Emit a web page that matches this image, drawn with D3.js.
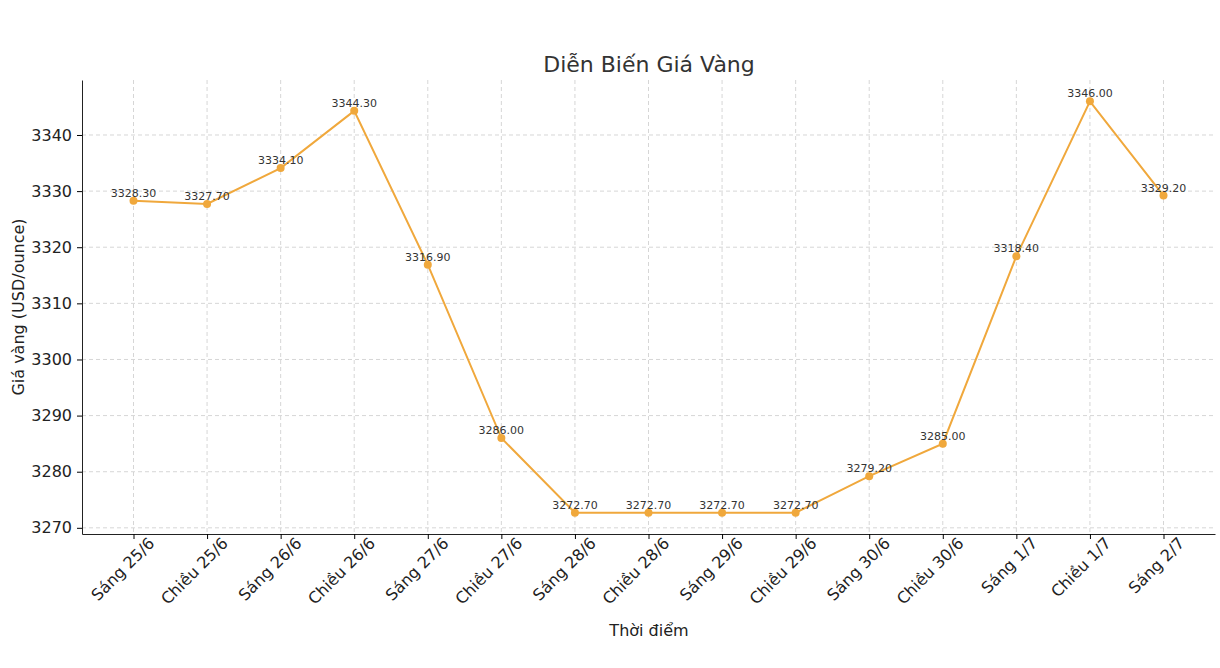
<!DOCTYPE html>
<html><head><meta charset="utf-8">
<script src="https://cdn.jsdelivr.net/npm/d3@7"></script>
<style>body{margin:0;background:#fff;font-family:"DejaVu Sans",sans-serif}</style>
</head><body>
<script>
"use strict";
const categories = ["Sáng 25/6","Chiều 25/6","Sáng 26/6","Chiều 26/6","Sáng 27/6","Chiều 27/6","Sáng 28/6","Chiều 28/6","Sáng 29/6","Chiều 29/6","Sáng 30/6","Chiều 30/6","Sáng 1/7","Chiều 1/7","Sáng 2/7"];
const prices = [3328.3,3327.7,3334.1,3344.3,3316.9,3286.0,3272.7,3272.7,3272.7,3272.7,3279.2,3285.0,3318.4,3346.0,3329.2];
const yTicks = [3270,3280,3290,3300,3310,3320,3330,3340];

const W = 1220, H = 668;
const m = {left: 82, right: 5, top: 80, bottom: 134};
const svg = d3.select("body").append("svg").attr("width", W).attr("height", H);

const x = d3.scaleLinear().domain([-0.7, categories.length - 0.3]).range([m.left, W - m.right]);
const y = d3.scaleLinear().domain([3268.9, 3349.8]).range([H - m.bottom, m.top]);
const color = "#f0a83c";

// grid
svg.append("g").selectAll("line").data(yTicks).join("line")
  .attr("x1", m.left).attr("x2", W - m.right)
  .attr("y1", d => y(d)).attr("y2", d => y(d))
  .attr("stroke", "#ccc").attr("stroke-dasharray", "4,3").attr("stroke-width", 0.8);
svg.append("g").selectAll("line").data(categories).join("line")
  .attr("x1", (d, i) => x(i)).attr("x2", (d, i) => x(i))
  .attr("y1", m.top).attr("y2", H - m.bottom)
  .attr("stroke", "#ccc").attr("stroke-dasharray", "4,3").attr("stroke-width", 0.8);

// axes
const yAxis = svg.append("g").attr("transform", `translate(${m.left},0)`)
  .call(d3.axisLeft(y).tickValues(yTicks).tickFormat(d3.format("d")).tickSize(5).tickSizeOuter(0).tickPadding(5));
yAxis.selectAll("text").style("font-size", "16px").style("font-family", "DejaVu Sans").attr("fill", "#222");
const xAxis = svg.append("g").attr("transform", `translate(0,${H - m.bottom})`)
  .call(d3.axisBottom(x).tickValues(d3.range(categories.length)).tickFormat(i => categories[i]).tickSize(5).tickSizeOuter(0));
xAxis.selectAll("text").style("font-size", "16px").style("font-family", "DejaVu Sans").attr("fill", "#222")
  .attr("text-anchor", "end").attr("dx", "0.5em").attr("dy", "0.9em")
  .attr("transform", "rotate(-45)");
svg.selectAll(".domain").attr("stroke", "#222");

// line + points
svg.append("path").datum(prices)
  .attr("fill", "none").attr("stroke", color).attr("stroke-width", 2)
  .attr("d", d3.line().x((d, i) => x(i)).y(d => y(d)));
svg.append("g").selectAll("circle").data(prices).join("circle")
  .attr("cx", (d, i) => x(i)).attr("cy", d => y(d)).attr("r", 4).attr("fill", color);
svg.append("g").selectAll("text").data(prices).join("text")
  .attr("x", (d, i) => x(i)).attr("y", d => y(d) - 4)
  .attr("text-anchor", "middle").attr("font-size", 11).attr("fill", "#333")
  .text(d => d.toFixed(2));

// titles
svg.append("text").attr("x", 649).attr("y", 72).attr("text-anchor", "middle")
  .attr("font-size", 22).attr("fill", "#333").text("Diễn Biến Giá Vàng");
svg.append("text").attr("x", 649).attr("y", 636).attr("text-anchor", "middle")
  .attr("font-size", 16).attr("fill", "#222").text("Thời điểm");
svg.append("text").attr("transform", `translate(24,${(m.top + H - m.bottom) / 2}) rotate(-90)`)
  .attr("text-anchor", "middle").attr("font-size", 16).attr("fill", "#222").text("Giá vàng (USD/ounce)");
</script>
</body></html>
